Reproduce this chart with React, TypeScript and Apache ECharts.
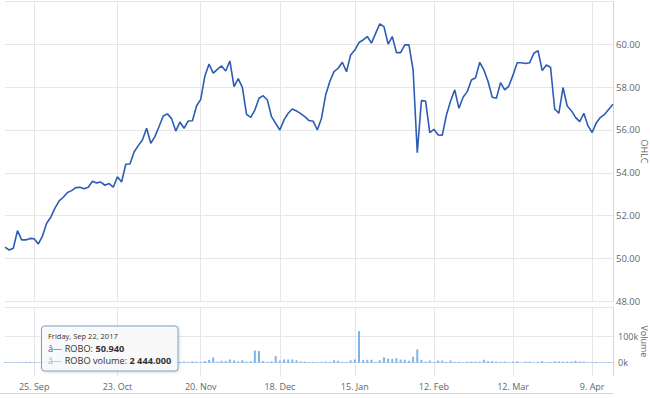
import React, { useEffect, useRef } from "react";
import * as echarts from "echarts";

const dates: string[] = [
  "2017-09-14","2017-09-15","2017-09-18","2017-09-19","2017-09-20","2017-09-21","2017-09-22","2017-09-25","2017-09-26","2017-09-27","2017-09-28","2017-09-29",
  "2017-10-02","2017-10-03","2017-10-04","2017-10-05","2017-10-06","2017-10-09","2017-10-10","2017-10-11","2017-10-12","2017-10-13","2017-10-16","2017-10-17","2017-10-18","2017-10-19","2017-10-20","2017-10-23","2017-10-24","2017-10-25","2017-10-26","2017-10-27","2017-10-30","2017-10-31",
  "2017-11-01","2017-11-02","2017-11-03","2017-11-06","2017-11-07","2017-11-08","2017-11-09","2017-11-10","2017-11-13","2017-11-14","2017-11-15","2017-11-16","2017-11-17","2017-11-20","2017-11-21","2017-11-22","2017-11-24","2017-11-27","2017-11-28","2017-11-29","2017-11-30",
  "2017-12-01","2017-12-04","2017-12-05","2017-12-06","2017-12-07","2017-12-08","2017-12-11","2017-12-12","2017-12-13","2017-12-14","2017-12-15","2017-12-18","2017-12-19","2017-12-20","2017-12-21","2017-12-22","2017-12-26","2017-12-27","2017-12-28","2017-12-29",
  "2018-01-02","2018-01-03","2018-01-04","2018-01-05","2018-01-08","2018-01-09","2018-01-10","2018-01-11","2018-01-12","2018-01-16","2018-01-17","2018-01-18","2018-01-19","2018-01-22","2018-01-23","2018-01-24","2018-01-25","2018-01-26","2018-01-29","2018-01-30","2018-01-31",
  "2018-02-01","2018-02-02","2018-02-05","2018-02-06","2018-02-07","2018-02-08","2018-02-09","2018-02-12","2018-02-13","2018-02-14","2018-02-15","2018-02-16","2018-02-20","2018-02-21","2018-02-22","2018-02-23","2018-02-26","2018-02-27","2018-02-28",
  "2018-03-01","2018-03-02","2018-03-05","2018-03-06","2018-03-07","2018-03-08","2018-03-09","2018-03-12","2018-03-13","2018-03-14","2018-03-15","2018-03-16","2018-03-19","2018-03-20","2018-03-21","2018-03-22","2018-03-23","2018-03-26","2018-03-27","2018-03-28","2018-03-29",
  "2018-04-02","2018-04-03","2018-04-04","2018-04-05","2018-04-06","2018-04-09","2018-04-10","2018-04-11","2018-04-12","2018-04-13","2018-04-16",
];

const price: number[] = [
  50.53, 50.40, 50.48, 51.30, 50.87, 50.87, 50.94, 50.92, 50.68, 51.05,
  51.65, 51.93, 52.35, 52.69, 52.86, 53.08, 53.17, 53.31, 53.33, 53.26,
  53.33, 53.61, 53.53, 53.57, 53.42, 53.50, 53.33, 53.82, 53.57, 54.40,
  54.41, 54.97, 55.27, 55.53, 56.08, 55.38, 55.69, 56.16, 56.65, 56.75,
  56.53, 55.95, 56.37, 56.08, 56.42, 56.43, 57.12, 57.43, 58.52, 59.08,
  58.65, 58.83, 58.99, 58.75, 59.22, 58.02, 58.40, 57.99, 56.73, 56.59,
  56.93, 57.48, 57.60, 57.40, 56.62, 56.31, 56.00, 56.47, 56.78, 56.98,
  56.89, 56.76, 56.62, 56.44, 56.41, 56.00, 56.55, 57.63, 58.26, 58.72,
  58.88, 59.16, 58.72, 59.50, 59.73, 60.08, 60.20, 60.36, 60.05, 60.51,
  60.95, 60.82, 60.01, 60.36, 59.61, 59.61, 59.97, 59.97, 58.80, 54.94,
  57.37, 57.35, 55.88, 56.03, 55.77, 55.75, 56.70, 57.35, 57.87, 57.01,
  57.53, 57.79, 58.33, 58.44, 59.16, 58.80, 58.26, 57.53, 57.48, 58.21,
  57.87, 58.05, 58.57, 59.14, 59.14, 59.10, 59.14, 59.58, 59.70, 58.77,
  59.03, 58.93, 56.98, 56.78, 57.98, 57.12, 56.90, 56.59, 56.39, 56.78,
  56.19, 55.88, 56.34, 56.59, 56.73, 56.97, 57.20,
];

const volume: number[] = [
  3000, 1000, 1000, 2000, 1000, 3000, 2444, 1500, 1000, 2000,
  2000, 3000, 2500, 4000, 3000, 2000, 3500, 2000, 3000, 2500,
  2000, 4000, 3000, 2500, 2000, 3000, 5000, 3000, 4000, 3500,
  3000, 4000, 3000, 2500, 5000, 4000, 3000, 3500, 4000, 3000,
  3000, 3500, 3000, 4000, 3000, 5000, 4000, 3000, 6000, 10000,
  20000, 4000, 7000, 6000, 12000, 8000, 5000, 9000, 4000, 5000,
  46000, 44000, 6000, 3000, 5000, 25000, 8000, 12000, 12000, 12000,
  9000, 5000, 4000, 3000, 3000, 2000, 3000, 4000, 3000, 9000,
  7000, 3000, 3000, 9000, 12000, 119000, 10000, 11000, 11000, 3000,
  9000, 20000, 15000, 14000, 17000, 12000, 11000, 7000, 22000, 50000,
  11000, 4000, 8000, 3000, 8000, 8000, 3000, 8000, 3000, 3000,
  500, 4000, 4000, 4000, 4000, 11000, 6000, 6000, 4000, 3000,
  4000, 1000, 4000, 5000, 500, 4000, 4000, 1000, 3000, 6000,
  1000, 3000, 5000, 5000, 4000, 4000, 4000, 7000, 4000, 4000,
  1000, 2000, 3000, 1000, 1000, 2000, 1000,
];

const tickDates = ["2017-09-25", "2017-10-23", "2017-11-20", "2017-12-18", "2018-01-16", "2018-02-12", "2018-03-12", "2018-04-09"];
const tickLabels = ["25. Sep", "23. Oct", "20. Nov", "18. Dec", "15. Jan", "12. Feb", "12. Mar", "9. Apr"];
const volumeLabelValues = [0, 100000];
const volumeLabelTexts = ["0k", "100k"];

const seriesName = "ROBO";
const volumeName = "ROBO volume";
const hoverIndex = 6;

const FONT = "'Open Sans', 'Noto Sans', sans-serif";
const LINE = "#2c5cb4";
const BAR = "#7cb5ec";
const GRID = "#e6e6e6";
const AXIS = "#ccd6eb";
const LABEL = "#666666";

const weekdays = ["Sunday", "Monday", "Tuesday", "Wednesday", "Thursday", "Friday", "Saturday"];
const months = ["Jan", "Feb", "Mar", "Apr", "May", "Jun", "Jul", "Aug", "Sep", "Oct", "Nov", "Dec"];

function fmtDate(s: string) {
  const [y, m, d] = s.split("-").map(Number);
  const dt = new Date(Date.UTC(y, m - 1, d));
  return `${weekdays[dt.getUTCDay()]}, ${months[m - 1]} ${d}, ${y}`;
}
function fmtVol(v: number) {
  const s = Math.round(v).toString().replace(/\B(?=(\d{3})+(?!\d))/g, " ");
  return s + ".000";
}

export default function App() {
  const ref = useRef<HTMLDivElement>(null);
  useEffect(() => {
    if (!ref.current) return;
    const chart = echarts.init(ref.current, undefined, { renderer: "svg" });
    const tickMap = new Map<string, string>(tickDates.map((d, i) => [d, tickLabels[i]]));
    const isTick = (_i: number, v: string) => tickMap.has(v);
    const tipX = 41.5, tipY = 326;
    const option: any = {
      animation: false,
      textStyle: { fontFamily: FONT },
      grid: [
        { left: 5, right: 37, top: 1.4, height: 300, containLabel: false, outerBoundsMode: "none" },
        { left: 5, right: 37, top: 306.8, height: 69.2, containLabel: false, outerBoundsMode: "none" },
      ],
      xAxis: [
        {
          type: "category", gridIndex: 0, data: dates, boundaryGap: false,
          axisLine: { show: false }, axisTick: { show: false, interval: isTick },
          axisLabel: { show: false, interval: isTick },
          splitLine: { show: true, interval: isTick, lineStyle: { color: GRID, width: 1 } },
        },
        {
          type: "category", gridIndex: 1, data: dates, boundaryGap: false,
          axisLine: { show: true, lineStyle: { color: AXIS, width: 1 } },
          axisTick: { show: false, interval: isTick },
          axisLabel: {
            interval: isTick, formatter: (v: string) => tickMap.get(v) ?? "",
            color: LABEL, fontSize: 9, margin: 6, fontFamily: FONT,
          },
          splitLine: { show: true, interval: isTick, lineStyle: { color: GRID, width: 1 } },
        },
      ],
      yAxis: [
        {
          type: "value", gridIndex: 0, position: "right", min: 48, max: 62, interval: 2,
          axisLine: { show: true, lineStyle: { color: AXIS, width: 1 } },
          axisTick: { show: false },
          axisLabel: {
            formatter: (v: number) => (v === 62 ? "" : v.toFixed(2)),
            color: LABEL, fontSize: 9.5, margin: 3, padding: [0, 0, 7, 0], fontFamily: FONT,
          },
          splitLine: { show: true, lineStyle: { color: GRID, width: 1 } },
          name: "OHLC", nameLocation: "middle", nameRotate: -90, nameGap: 27, nameMoveOverlap: false,
          nameTextStyle: { color: LABEL, fontSize: 9, fontFamily: FONT },
        },
        {
          type: "value", gridIndex: 1, position: "right", min: -50000, max: 210000, interval: 50000,
          axisLine: { show: true, lineStyle: { color: AXIS, width: 1 } },
          axisTick: { show: false },
          axisLabel: {
            formatter: (v: number) => {
              const k = volumeLabelValues.indexOf(v);
              return k >= 0 ? volumeLabelTexts[k] : "";
            },
            color: LABEL, fontSize: 9, margin: 5, padding: [0, 0, 7, 0], fontFamily: FONT,
          },
          splitLine: {
            show: true,
            lineStyle: {
              color: ["rgba(0,0,0,0)", GRID, "rgba(0,0,0,0)", GRID, "rgba(0,0,0,0)", "rgba(0,0,0,0)", GRID],
              width: 1,
            },
          },
          name: "Volume", nameLocation: "middle", nameRotate: -90, nameGap: 27, nameMoveOverlap: false,
          nameTextStyle: { color: LABEL, fontSize: 9, fontFamily: FONT },
        },
      ],
      series: [
        {
          name: seriesName, type: "line", xAxisIndex: 0, yAxisIndex: 0, data: price,
          showSymbol: false, symbol: "none",
          lineStyle: { color: LINE, width: 1.6 }, itemStyle: { color: LINE },
        },
        {
          name: volumeName, type: "bar", xAxisIndex: 1, yAxisIndex: 1, data: volume,
          barWidth: 2, itemStyle: { color: BAR },
        },
      ],
      graphic: [
        { type: "line", z: 100, shape: { x1: 0, y1: 393.5, x2: 613, y2: 393.5 }, style: { stroke: AXIS, lineWidth: 1 } },
        {
          type: "rect", z: 100, x: tipX, y: tipY,
          shape: { x: 0, y: 0, width: 136.5, height: 45, r: 3 },
          style: { fill: "rgba(250,250,250,0.92)", stroke: "#7f9ccf", lineWidth: 1, shadowBlur: 3, shadowColor: "rgba(0,0,0,0.15)", shadowOffsetX: 1, shadowOffsetY: 1 },
        },
        {
          type: "text", z: 101, x: tipX + 6.5, y: tipY + 10,
          style: { text: fmtDate(dates[hoverIndex]), fill: "#333", fontSize: 7.5, fontFamily: FONT, verticalAlign: "middle" },
        },
        {
          type: "text", z: 101, x: tipX + 6.5, y: tipY + 22.3,
          style: {
            text: `{m|â—} ${seriesName}: {b|${price[hoverIndex].toFixed(3)}}`,
            fill: "#333", fontSize: 9.2, fontFamily: FONT, verticalAlign: "middle",
            rich: {
              m: { fill: LINE, fontSize: 9.2, fontFamily: FONT },
              b: { fill: "#333", fontSize: 9.2, fontWeight: "bold", fontFamily: FONT },
            },
          },
        },
        {
          type: "text", z: 101, x: tipX + 6.5, y: tipY + 34,
          style: {
            text: `{m|â—} ${volumeName}: {b|${fmtVol(volume[hoverIndex])}}`,
            fill: "#333", fontSize: 9.2, fontFamily: FONT, verticalAlign: "middle",
            rich: {
              m: { fill: "#8fb3e8", fontSize: 9.2, fontFamily: FONT },
              b: { fill: "#333", fontSize: 9.2, fontWeight: "bold", fontFamily: FONT },
            },
          },
        },
      ],
    };
    chart.setOption(option);
    return () => chart.dispose();
  }, []);
  return <div ref={ref} style={{ width: 650, height: 398, position: "absolute", left: 0, top: 0, background: "#fff" }} />;
}
